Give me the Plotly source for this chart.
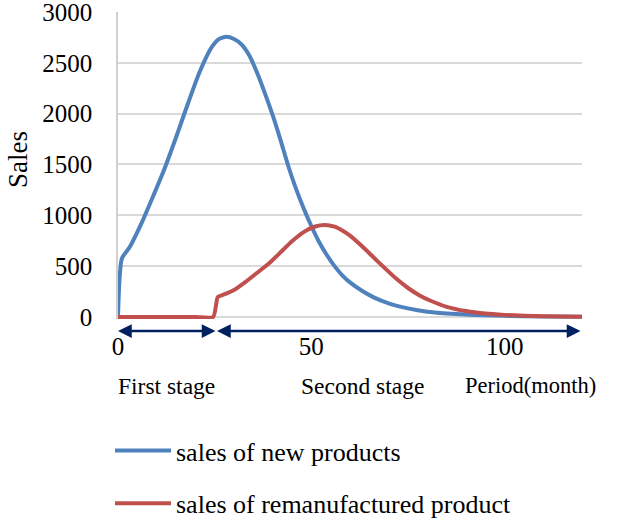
import plotly.graph_objects as go

# ---- data ----
months_new = [0, 1, 3, 6, 9, 12, 15, 18, 21, 24, 26, 28, 30, 32, 34, 36, 38, 40, 42, 44,
              46, 48, 50, 52, 54, 56, 58, 60, 63, 66, 70, 75, 80, 85, 90, 95, 100, 110, 120]
sales_new = [0, 575, 685, 915, 1180, 1455, 1765, 2090, 2400, 2640, 2730, 2757, 2735, 2680,
             2570, 2400, 2200, 1985, 1745, 1490, 1265, 1070, 895, 738, 610, 500, 410, 340,
             260, 195, 134, 85, 52, 35, 24, 16, 11, 5, 2]

months_reman = [0, 5, 10, 15, 20, 24.6, 25.8, 27, 30, 33, 36, 39, 42, 45, 48, 51, 53.5, 56,
                58, 60, 63, 66, 69, 72, 75, 78, 81, 85, 90, 95, 100, 105, 110, 120]
sales_reman = [0, 0, 0, 0, 0, 0, 197, 215, 265, 345, 435, 525, 635, 745, 835, 890, 905, 888,
               850, 800, 700, 590, 480, 375, 285, 212, 157, 100, 58, 33, 20, 12, 7, 3]

series_names = ["sales of new products", "sales of remanufactured product"]
x_ticks = [0, 50, 100]
y_ticks = [0, 500, 1000, 1500, 2000, 2500, 3000]
stage_boundary = 25.6
period_end = 120

FONT = "Liberation Serif"
BLUE = "#4F81BD"
RED = "#C0504D"
NAVY = "#002060"

fig = go.Figure()
fig.add_trace(go.Scatter(x=months_new, y=sales_new, mode="lines", name=series_names[0],
                         legendgroup="a",
                         line=dict(color=BLUE, width=4, shape="spline", smoothing=0.6)))
fig.add_trace(go.Scatter(x=months_reman, y=sales_reman, mode="lines", name=series_names[1],
                         legendgroup="b",
                         line=dict(color=RED, width=4, shape="spline", smoothing=0.6)))

W, H = 622, 525
L, R, T, B = 118, 40, 12, 206
pw, ph = W - L - R, H - T - B


def px_x(px):
    return (px - L) / pw


def px_y(py):
    return (H - B - py) / ph


arrow_y = px_y(331)
annotations = []
for x0, x1 in [(0, stage_boundary), (stage_boundary, period_end)]:
    annotations.append(dict(
        x=x0, y=arrow_y, xref="x", yref="paper",
        ax=x1, ay=0, axref="x", ayref="pixel",
        text="", showarrow=True, arrowside="end+start",
        arrowhead=2, startarrowhead=2, arrowsize=1.1, startarrowsize=1.1,
        arrowwidth=2.5, arrowcolor=NAVY))

label_font = dict(family=FONT, size=23.5, color="black")
annotations += [
    dict(text="First stage", x=px_x(166), y=px_y(386), xref="paper", yref="paper",
         xanchor="center", yanchor="middle", showarrow=False, font=label_font),
    dict(text="Second stage", x=px_x(362), y=px_y(386), xref="paper", yref="paper",
         xanchor="center", yanchor="middle", showarrow=False, font=label_font),
    dict(text="Period(month)", x=px_x(530), y=px_y(385), xref="paper", yref="paper",
         xanchor="center", yanchor="middle", showarrow=False,
         font=dict(family=FONT, size=22.5, color="black")),
    dict(text="Sales", x=px_x(18), y=px_y(160), xref="paper", yref="paper", textangle=-90,
         xanchor="center", yanchor="middle", showarrow=False,
         font=dict(family=FONT, size=27, color="black")),
]

fig.update_layout(
    width=W, height=H,
    margin=dict(l=L, r=R, t=T, b=B, autoexpand=False),
    paper_bgcolor="white", plot_bgcolor="white",
    font=dict(family=FONT, size=24, color="black"),
    showlegend=True,
    legend=dict(x=px_x(110), y=px_y(427), xanchor="left", yanchor="top",
                font=dict(family=FONT, size=26, color="black"),
                itemwidth=56, tracegroupgap=16, bgcolor="rgba(0,0,0,0)"),
    annotations=annotations,
    xaxis=dict(range=[0, period_end], tickvals=x_ticks, showgrid=False, zeroline=False,
               showline=False, ticks="", ticklabelstandoff=10,
               tickfont=dict(family=FONT, size=25, color="black")),
    yaxis=dict(range=[-20, 3000], tickvals=y_ticks, showgrid=True, gridcolor="#d9d9d9",
               gridwidth=1.5, zeroline=True, zerolinecolor="#d9d9d9", zerolinewidth=1.5,
               showline=True, linecolor="#d0d0d0", linewidth=1.5, ticks="",
               ticklabelstandoff=19, ticklabeloverflow="allow",
               tickfont=dict(family=FONT, size=25, color="black")),
)

fig.write_html("out.html", config={"displayModeBar": False},
               post_script="document.body.style.margin='0';")
